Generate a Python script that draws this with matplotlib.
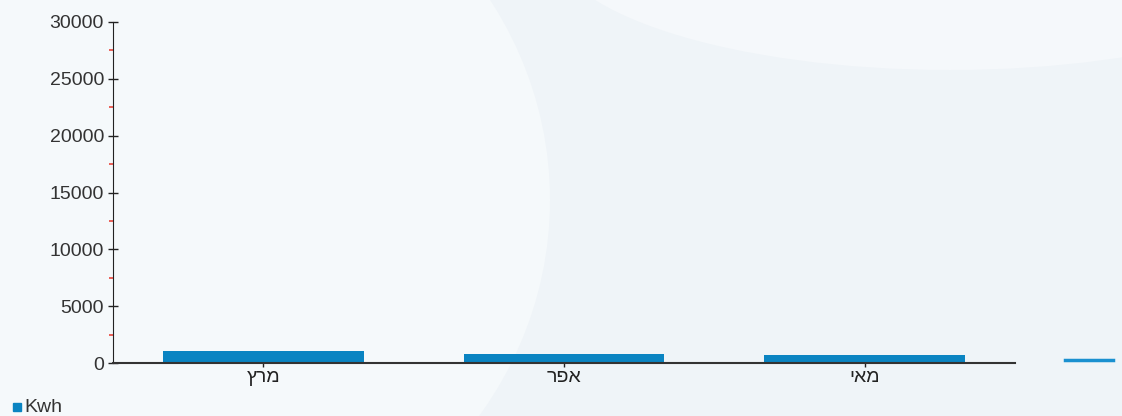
import numpy as np
import matplotlib.pyplot as plt
from matplotlib.patches import Ellipse, Rectangle
from matplotlib.lines import Line2D

# נתוני צריכה חודשית (Kwh)
months = ["מרץ", "אפר", "מאי"]
kwh = [1050, 800, 700]
y_ticks = [0, 5000, 10000, 15000, 20000, 25000, 30000]
series_name = "Kwh"

plt.rcParams['font.family'] = ['Liberation Sans', 'DejaVu Sans']

fig = plt.figure(figsize=(11.22, 4.16), dpi=100)
fig.patch.set_facecolor('#eff4f8')

# soft background shapes
bg = fig.add_axes([0, 0, 1, 1], zorder=-10)
bg.set_xlim(0, 1122); bg.set_ylim(416, 0); bg.axis('off')
bg.add_patch(Ellipse((150, 200), 800, 760, color='#f5f9fb', lw=0))
bg.add_patch(Ellipse((950, -60), 800, 260, color='#f5f8fb', lw=0))

ax = fig.add_axes([113/1122, 1 - 363/416, (1015 - 113)/1122, (363 - 22)/416])
ax.patch.set_alpha(0)

x = np.arange(len(months))
ax.bar(x, kwh, width=0.667, color='#0a84c2', edgecolor='none', zorder=2)

ax.set_xlim(-0.5, 2.5)
ax.set_ylim(0, 30000)
ax.set_xticks(x)
# matplotlib draws left-to-right, so reverse the Hebrew letters
ax.set_xticklabels([m[::-1] for m in months], fontsize=14, color='#222222')
ax.set_yticks(y_ticks)
ax.set_yticklabels([str(v) for v in y_ticks], fontsize=14, color='#333333')
ax.set_yticks(np.arange(2500, 30000, 5000), minor=True)

ax.tick_params(axis='y', which='major', direction='inout', length=7, width=1, color='#222222', pad=3)
ax.tick_params(axis='y', which='minor', direction='out', length=3, width=1.2, color='#e8453c')
ax.tick_params(axis='x', direction='inout', length=6, width=1, color='#222222', pad=1)

for s in ['top', 'right']:
    ax.spines[s].set_visible(False)
ax.spines['left'].set_color('#222222')
ax.spines['bottom'].set_color('#333333')
ax.spines['bottom'].set_linewidth(1.5)
ax.spines['bottom'].set_zorder(4)

# legend marker bottom-left
fig.patches.append(Rectangle((13/1122, 1 - 411/416), 8/1122, 8/416,
                             transform=fig.transFigure, color='#0a84c2', figure=fig))
fig.text(24/1122, 1 - 407/416, series_name, fontsize=14, va='center', ha='left', color='#333333')

# stray blue line on the right
fig.lines.append(Line2D([1065/1122, 1113/1122], [1 - 360/416, 1 - 360/416],
                        transform=fig.transFigure, color='#1a90d0', lw=2.5))

fig.savefig("out.png", dpi=100, facecolor=fig.get_facecolor())
